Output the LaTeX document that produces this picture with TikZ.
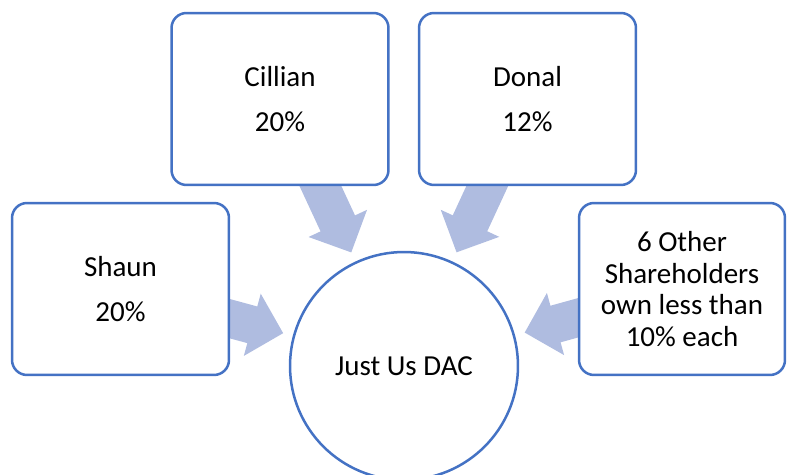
\documentclass[tikz,border=0pt]{standalone}
\usepackage{fontspec}
\setmainfont{Carlito}
\usetikzlibrary{arrows.meta,backgrounds}
\definecolor{boxblue}{RGB}{68,114,196}
\definecolor{arrowblue}{RGB}{175,188,224}
\begin{document}
\begin{tikzpicture}[x=0.02cm,y=-0.02cm,
		holder/.style={draw=boxblue,line width=0.05cm,fill=white,rounded corners=0.3cm,minimum width=4.34cm,minimum height=3.44cm,align=center,font=\fontsize{16.5}{17.9}\selectfont},
		company/.style={draw=boxblue,line width=0.05cm,fill=white,circle,minimum size=4.56cm,font=\fontsize{16.5}{17.9}\selectfont},
		share/.style={arrowblue,line width=0.76cm,shorten >=0.2cm,-{Triangle[length=0.64cm,width=1.28cm,line width=1.5pt]}}]
				\useasboundingbox (0,0) rectangle (787,475);
				\clip (0,0) rectangle (787,475);
				\node[holder] (shaun) at (120.5,289) {Shaun\\[7.7pt]20\%};
				\node[holder] (cillian) at (280,99) {Cillian\\[7.7pt]20\%};
				\node[holder] (donal) at (527.5,99) {Donal\\[7.7pt]12\%};
				\node[holder,minimum width=4.12cm] (others) at (682,289) {6 Other\\Shareholders\\own less than\\10\% each};
				\node[company] (dac) at (404,366) {Just Us DAC};
				\begin{pgfonlayer}{background}
					\foreach \who in {shaun,cillian,donal,others}
						\draw[share] (\who.center) -- (dac);
				\end{pgfonlayer}
			\end{tikzpicture}
\end{document}
